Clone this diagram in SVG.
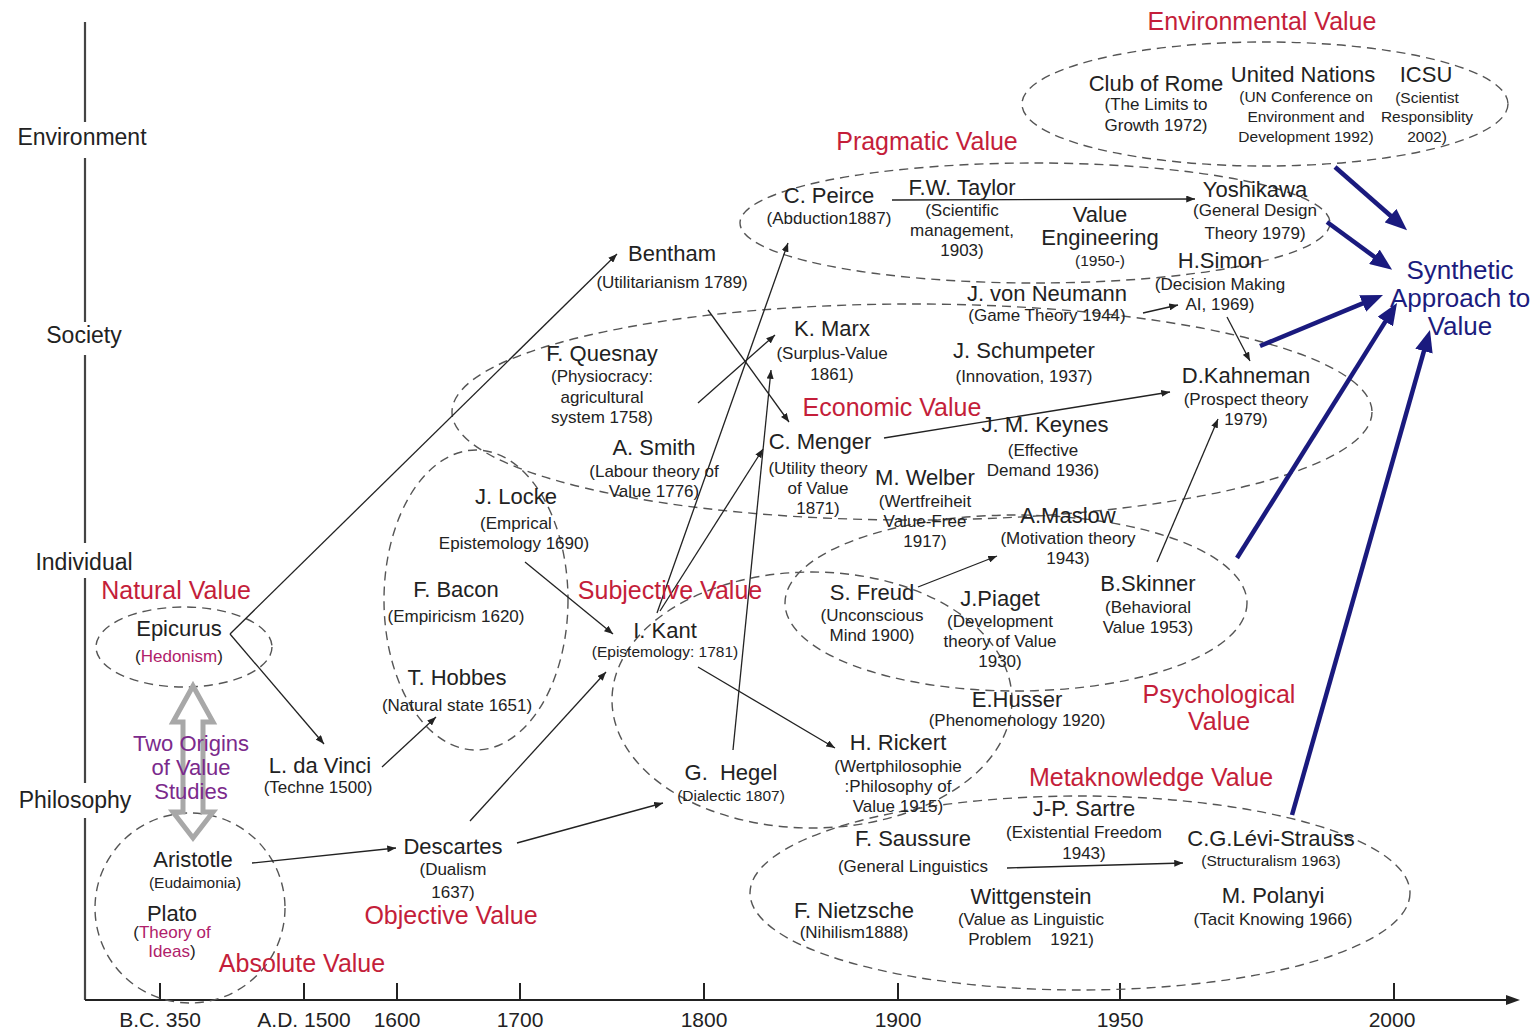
<svg xmlns="http://www.w3.org/2000/svg" width="1539" height="1032" viewBox="0 0 1539 1032">
<style>
text{font-family:"Liberation Sans",Arial,sans-serif;fill:#222;text-anchor:middle}
.n{font-size:22px}
.s{font-size:17px}
.ss{font-size:15.5px}
.cat{font-size:25px;fill:#c41e3a}
.ax{font-size:23px}
.tk{font-size:21px}
.pur{font-size:22px;fill:#7b2a8c}
.mag{fill:#b0206a}
.syn{font-size:26px;fill:#1c1c7e}
.ell{fill:none;stroke:#555;stroke-width:1.4;stroke-dasharray:9 6}
.c line{stroke:#222;stroke-width:1.3;marker-end:url(#ah)}
.bl line{stroke:#1a1a7e;stroke-width:4.5;marker-end:url(#bh)}
.axis{stroke:#444;stroke-width:2.2;fill:none}
</style>
<defs>
<marker id="ah" viewBox="0 0 10 8" refX="10" refY="4" markerWidth="9" markerHeight="7" orient="auto" markerUnits="userSpaceOnUse"><path d="M0,0 L10,4 L0,8 z" fill="#222"/></marker>
<marker id="bh" viewBox="0 0 22 18" refX="2" refY="9" markerWidth="22" markerHeight="18" orient="auto" markerUnits="userSpaceOnUse"><path d="M0,0 L22,9 L0,18 z" fill="#1a1a7e"/></marker>
<marker id="axh" viewBox="0 0 14 10" refX="2" refY="5" markerWidth="14" markerHeight="10" orient="auto" markerUnits="userSpaceOnUse"><path d="M0,0 L14,5 L0,10 z" fill="#222"/></marker>
</defs>
<rect width="1539" height="1032" fill="#fff"/>

<g id="axes">
<path class="axis" d="M85,22 V122 M85,158 V322 M85,355 V543 M85,578 V783 M85,818 V1000"/>
<line x1="85" y1="1000" x2="1508" y2="1000" stroke="#222" stroke-width="2" marker-end="url(#axh)"/>
<path stroke="#222" stroke-width="2" d="M160,983V1000 M304,983V1000 M397,983V1000 M520,983V1000 M704,983V1000 M898,983V1000 M1120,983V1000 M1394,983V1000"/>
<text class="ax" x="82" y="145">Environment</text>
<text class="ax" x="84" y="343">Society</text>
<text class="ax" x="84" y="570">Individual</text>
<text class="ax" x="75" y="808">Philosophy</text>
<text class="tk" x="160" y="1027">B.C. 350</text>
<text class="tk" x="304" y="1027">A.D. 1500</text>
<text class="tk" x="397" y="1027">1600</text>
<text class="tk" x="520" y="1027">1700</text>
<text class="tk" x="704" y="1027">1800</text>
<text class="tk" x="898" y="1027">1900</text>
<text class="tk" x="1120" y="1027">1950</text>
<text class="tk" x="1392" y="1027">2000</text>
</g>

<g id="regions">
<ellipse class="ell" cx="184" cy="647" rx="88" ry="40"/>
<ellipse class="ell" cx="190" cy="908" rx="95" ry="95"/>
<ellipse class="ell" cx="476" cy="600" rx="92" ry="150"/>
<ellipse class="ell" cx="912" cy="412" rx="460" ry="108"/>
<ellipse class="ell" cx="1035" cy="223" rx="295" ry="60"/>
<ellipse class="ell" cx="1265" cy="104" rx="243" ry="62"/>
<ellipse class="ell" cx="812" cy="700" rx="200" ry="128"/>
<ellipse class="ell" cx="1016" cy="603" rx="231" ry="88"/>
<ellipse class="ell" cx="1080" cy="893" rx="330" ry="97"/>
<path id="two-origins-arrow" d="M193,686 L213,722 L203,722 L203,812 L213,812 L193,838 L173,812 L183,812 L183,722 L173,722 Z" fill="none" stroke="#a8a8a8" stroke-width="5" stroke-linejoin="miter"/>
</g>

<g id="connectors">
<g class="c">
<line x1="230" y1="634" x2="617" y2="254"/>
<line x1="230" y1="634" x2="324" y2="744"/>
<line x1="382" y1="767" x2="436" y2="717"/>
<line x1="252" y1="863" x2="396" y2="848"/>
<line x1="470" y1="821" x2="606" y2="672"/>
<line x1="517" y1="843" x2="663" y2="803"/>
<line x1="525" y1="562" x2="613" y2="634"/>
<line x1="657" y1="613" x2="788" y2="243"/>
<line x1="660" y1="611" x2="763" y2="449"/>
<line x1="733" y1="750" x2="771" y2="370"/>
<line x1="698" y1="403" x2="775" y2="335"/>
<line x1="708" y1="310" x2="789" y2="422"/>
<line x1="884" y1="438" x2="1170" y2="392"/>
<line x1="698" y1="667" x2="835" y2="748"/>
<line x1="892" y1="200" x2="1195" y2="199"/>
<line x1="1143" y1="313" x2="1178" y2="305"/>
<line x1="1227" y1="317" x2="1250" y2="361"/>
<line x1="1157" y1="562" x2="1218" y2="419"/>
<line x1="918" y1="587" x2="997" y2="556"/>
<line x1="1007" y1="868" x2="1183" y2="863"/>
</g>
<g class="bl">
<line x1="1335" y1="167" x2="1392" y2="217"/>
<line x1="1327" y1="222" x2="1376" y2="258"/>
<line x1="1260" y1="346" x2="1364.5" y2="302.7"/>
<line x1="1237" y1="558" x2="1386.4" y2="319.9"/>
<line x1="1292" y1="815" x2="1424.5" y2="349.2"/>
</g>
</g>

<g id="labels">
<text class="cat" x="1262" y="30">Environmental Value</text>
<text class="cat" x="927" y="150">Pragmatic Value</text>
<text class="cat" x="892" y="416">Economic Value</text>
<text class="cat" x="670" y="599">Subjective Value</text>
<text class="cat" x="1219" y="703">Psychological</text>
<text class="cat" x="1219" y="730">Value</text>
<text class="cat" x="1151" y="786">Metaknowledge Value</text>
<text class="cat" x="451" y="924">Objective Value</text>
<text class="cat" x="302" y="972">Absolute Value</text>
<text class="cat" x="176" y="599">Natural Value</text>
<g id="two-origins"><text class="pur" x="191" y="751">Two Origins</text><text class="pur" x="191" y="775">of Value</text><text class="pur" x="191" y="799">Studies</text></g>
<g id="synthetic"><text class="syn" x="1460" y="279">Synthetic</text><text class="syn" x="1460" y="307">Approach to</text><text class="syn" x="1460" y="335">Value</text></g>
</g>

<g id="club-of-rome"><text class="n" x="1156" y="91">Club of Rome</text><text class="s" x="1156" y="110">(The Limits to</text><text class="s" x="1156" y="131">Growth 1972)</text></g>
<g id="united-nations"><text class="n" x="1303" y="82">United Nations</text><text class="ss" x="1306" y="102">(UN Conference on</text><text class="ss" x="1306" y="122">Environment and</text><text class="ss" x="1306" y="142">Development 1992)</text></g>
<g id="icsu"><text class="n" x="1426" y="82">ICSU</text><text class="ss" x="1427" y="103">(Scientist</text><text class="ss" x="1427" y="122">Responsiblity</text><text class="ss" x="1427" y="142">2002)</text></g>
<g id="peirce"><text class="n" x="829" y="203">C. Peirce</text><text class="s" x="829" y="224">(Abduction1887)</text></g>
<g id="taylor"><text class="n" x="962" y="195">F.W. Taylor</text><text class="s" x="962" y="216">(Scientific</text><text class="s" x="962" y="236">management,</text><text class="s" x="962" y="256">1903)</text></g>
<g id="value-engineering"><text class="n" x="1100" y="222">Value</text><text class="n" x="1100" y="245">Engineering</text><text class="ss" x="1100" y="266">(1950-)</text></g>
<g id="yoshikawa"><text class="n" x="1255" y="197">Yoshikawa</text><text class="s" x="1255" y="216">(General Design</text><text class="s" x="1255" y="239">Theory 1979)</text></g>
<g id="bentham"><text class="n" x="672" y="261">Bentham</text><text class="s" x="672" y="288">(Utilitarianism 1789)</text></g>
<g id="marx"><text class="n" x="832" y="336">K. Marx</text><text class="s" x="832" y="359">(Surplus-Value</text><text class="s" x="832" y="380">1861)</text></g>
<g id="von-neumann"><text class="n" x="1047" y="301">J. von Neumann</text><text class="s" x="1047" y="321">(Game Theory 1944)</text></g>
<g id="simon"><text class="n" x="1220" y="268">H.Simon</text><text class="s" x="1220" y="290">(Decision Making</text><text class="s" x="1220" y="310">AI, 1969)</text></g>
<g id="schumpeter"><text class="n" x="1024" y="358">J. Schumpeter</text><text class="s" x="1024" y="382">(Innovation, 1937)</text></g>
<g id="quesnay"><text class="n" x="602" y="361">F. Quesnay</text><text class="s" x="602" y="382">(Physiocracy:</text><text class="s" x="602" y="403">agricultural</text><text class="s" x="602" y="423">system 1758)</text></g>
<g id="kahneman"><text class="n" x="1246" y="383">D.Kahneman</text><text class="s" x="1246" y="405">(Prospect theory</text><text class="s" x="1246" y="425">1979)</text></g>
<g id="smith"><text class="n" x="654" y="455">A. Smith</text><text class="s" x="654" y="477">(Labour theory of</text><text class="s" x="654" y="497">Value 1776)</text></g>
<g id="menger"><text class="n" x="820" y="449">C. Menger</text><text class="s" x="818" y="474">(Utility theory</text><text class="s" x="818" y="494">of Value</text><text class="s" x="818" y="514">1871)</text></g>
<g id="keynes"><text class="n" x="1045" y="432">J. M. Keynes</text><text class="s" x="1043" y="456">(Effective</text><text class="s" x="1043" y="476">Demand 1936)</text></g>
<g id="weber"><text class="n" x="925" y="485">M. Welber</text><text class="s" x="925" y="507">(Wertfreiheit</text><text class="s" x="925" y="527">Value-Free</text><text class="s" x="925" y="547">1917)</text></g>
<g id="locke"><text class="n" x="516" y="504">J. Locke</text><text class="s" x="516" y="529">(Emprical</text><text class="s" x="514" y="549">Epistemology 1690)</text></g>
<g id="bacon"><text class="n" x="456" y="597">F. Bacon</text><text class="s" x="456" y="622">(Empiricism 1620)</text></g>
<g id="hobbes"><text class="n" x="457" y="685">T. Hobbes</text><text class="s" x="457" y="711">(Natural state 1651)</text></g>
<g id="kant"><text class="n" x="665" y="638">I. Kant</text><text class="ss" x="665" y="657">(Epistemology: 1781)</text></g>
<g id="maslow"><text class="n" x="1068" y="523">A.Maslow</text><text class="s" x="1068" y="544">(Motivation theory</text><text class="s" x="1068" y="564">1943)</text></g>
<g id="freud"><text class="n" x="872" y="600">S. Freud</text><text class="s" x="872" y="621">(Unconscious</text><text class="s" x="872" y="641">Mind 1900)</text></g>
<g id="piaget"><text class="n" x="1000" y="606">J.Piaget</text><text class="s" x="1000" y="627">(Development</text><text class="s" x="1000" y="647">theory of Value</text><text class="s" x="1000" y="667">1930)</text></g>
<g id="skinner"><text class="n" x="1148" y="591">B.Skinner</text><text class="s" x="1148" y="613">(Behavioral</text><text class="s" x="1148" y="633">Value 1953)</text></g>
<g id="husser"><text class="n" x="1017" y="707">E.Husser</text><text class="s" x="1017" y="726">(Phenomenology 1920)</text></g>
<g id="rickert"><text class="n" x="898" y="750">H. Rickert</text><text class="s" x="898" y="772">(Wertphilosophie</text><text class="s" x="898" y="792">:Philosophy of</text><text class="s" x="898" y="812">Value 1915)</text></g>
<g id="hegel"><text class="n" x="731" y="780" xml:space="preserve">G.  Hegel</text><text class="ss" x="731" y="801">(Dialectic 1807)</text></g>
<g id="descartes"><text class="n" x="453" y="854">Descartes</text><text class="s" x="453" y="875">(Dualism</text><text class="s" x="453" y="898">1637)</text></g>
<g id="da-vinci"><text class="n" x="320" y="773">L. da Vinci</text><text class="s" x="318" y="793">(Techne 1500)</text></g>
<g id="epicurus"><text class="n" x="179" y="636">Epicurus</text><text class="s" x="179" y="662">(<tspan class="mag">Hedonism</tspan>)</text></g>
<g id="aristotle"><text class="n" x="193" y="867">Aristotle</text><text class="ss" x="195" y="888">(Eudaimonia)</text></g>
<g id="plato"><text class="n" x="172" y="921">Plato</text><text class="s" x="172" y="938">(<tspan class="mag">Theory of</tspan></text><text class="s" x="172" y="957"><tspan class="mag">Ideas</tspan>)</text></g>
<g id="sartre"><text class="n" x="1084" y="816">J-P. Sartre</text><text class="s" x="1084" y="838">(Existential Freedom</text><text class="s" x="1084" y="859">1943)</text></g>
<g id="saussure"><text class="n" x="913" y="846">F. Saussure</text><text class="s" x="913" y="872">(General Linguistics</text></g>
<g id="levi-strauss"><text class="n" x="1271" y="846">C.G.Lévi-Strauss</text><text class="ss" x="1271" y="866">(Structuralism 1963)</text></g>
<g id="wittgenstein"><text class="n" x="1031" y="904">Wittgenstein</text><text class="s" x="1031" y="925">(Value as Linguistic</text><text class="s" x="1031" y="945" xml:space="preserve">Problem    1921)</text></g>
<g id="polanyi"><text class="n" x="1273" y="903">M. Polanyi</text><text class="s" x="1273" y="925">(Tacit Knowing 1966)</text></g>
<g id="nietzsche"><text class="n" x="854" y="918">F. Nietzsche</text><text class="s" x="854" y="938">(Nihilism1888)</text></g>
</svg>
